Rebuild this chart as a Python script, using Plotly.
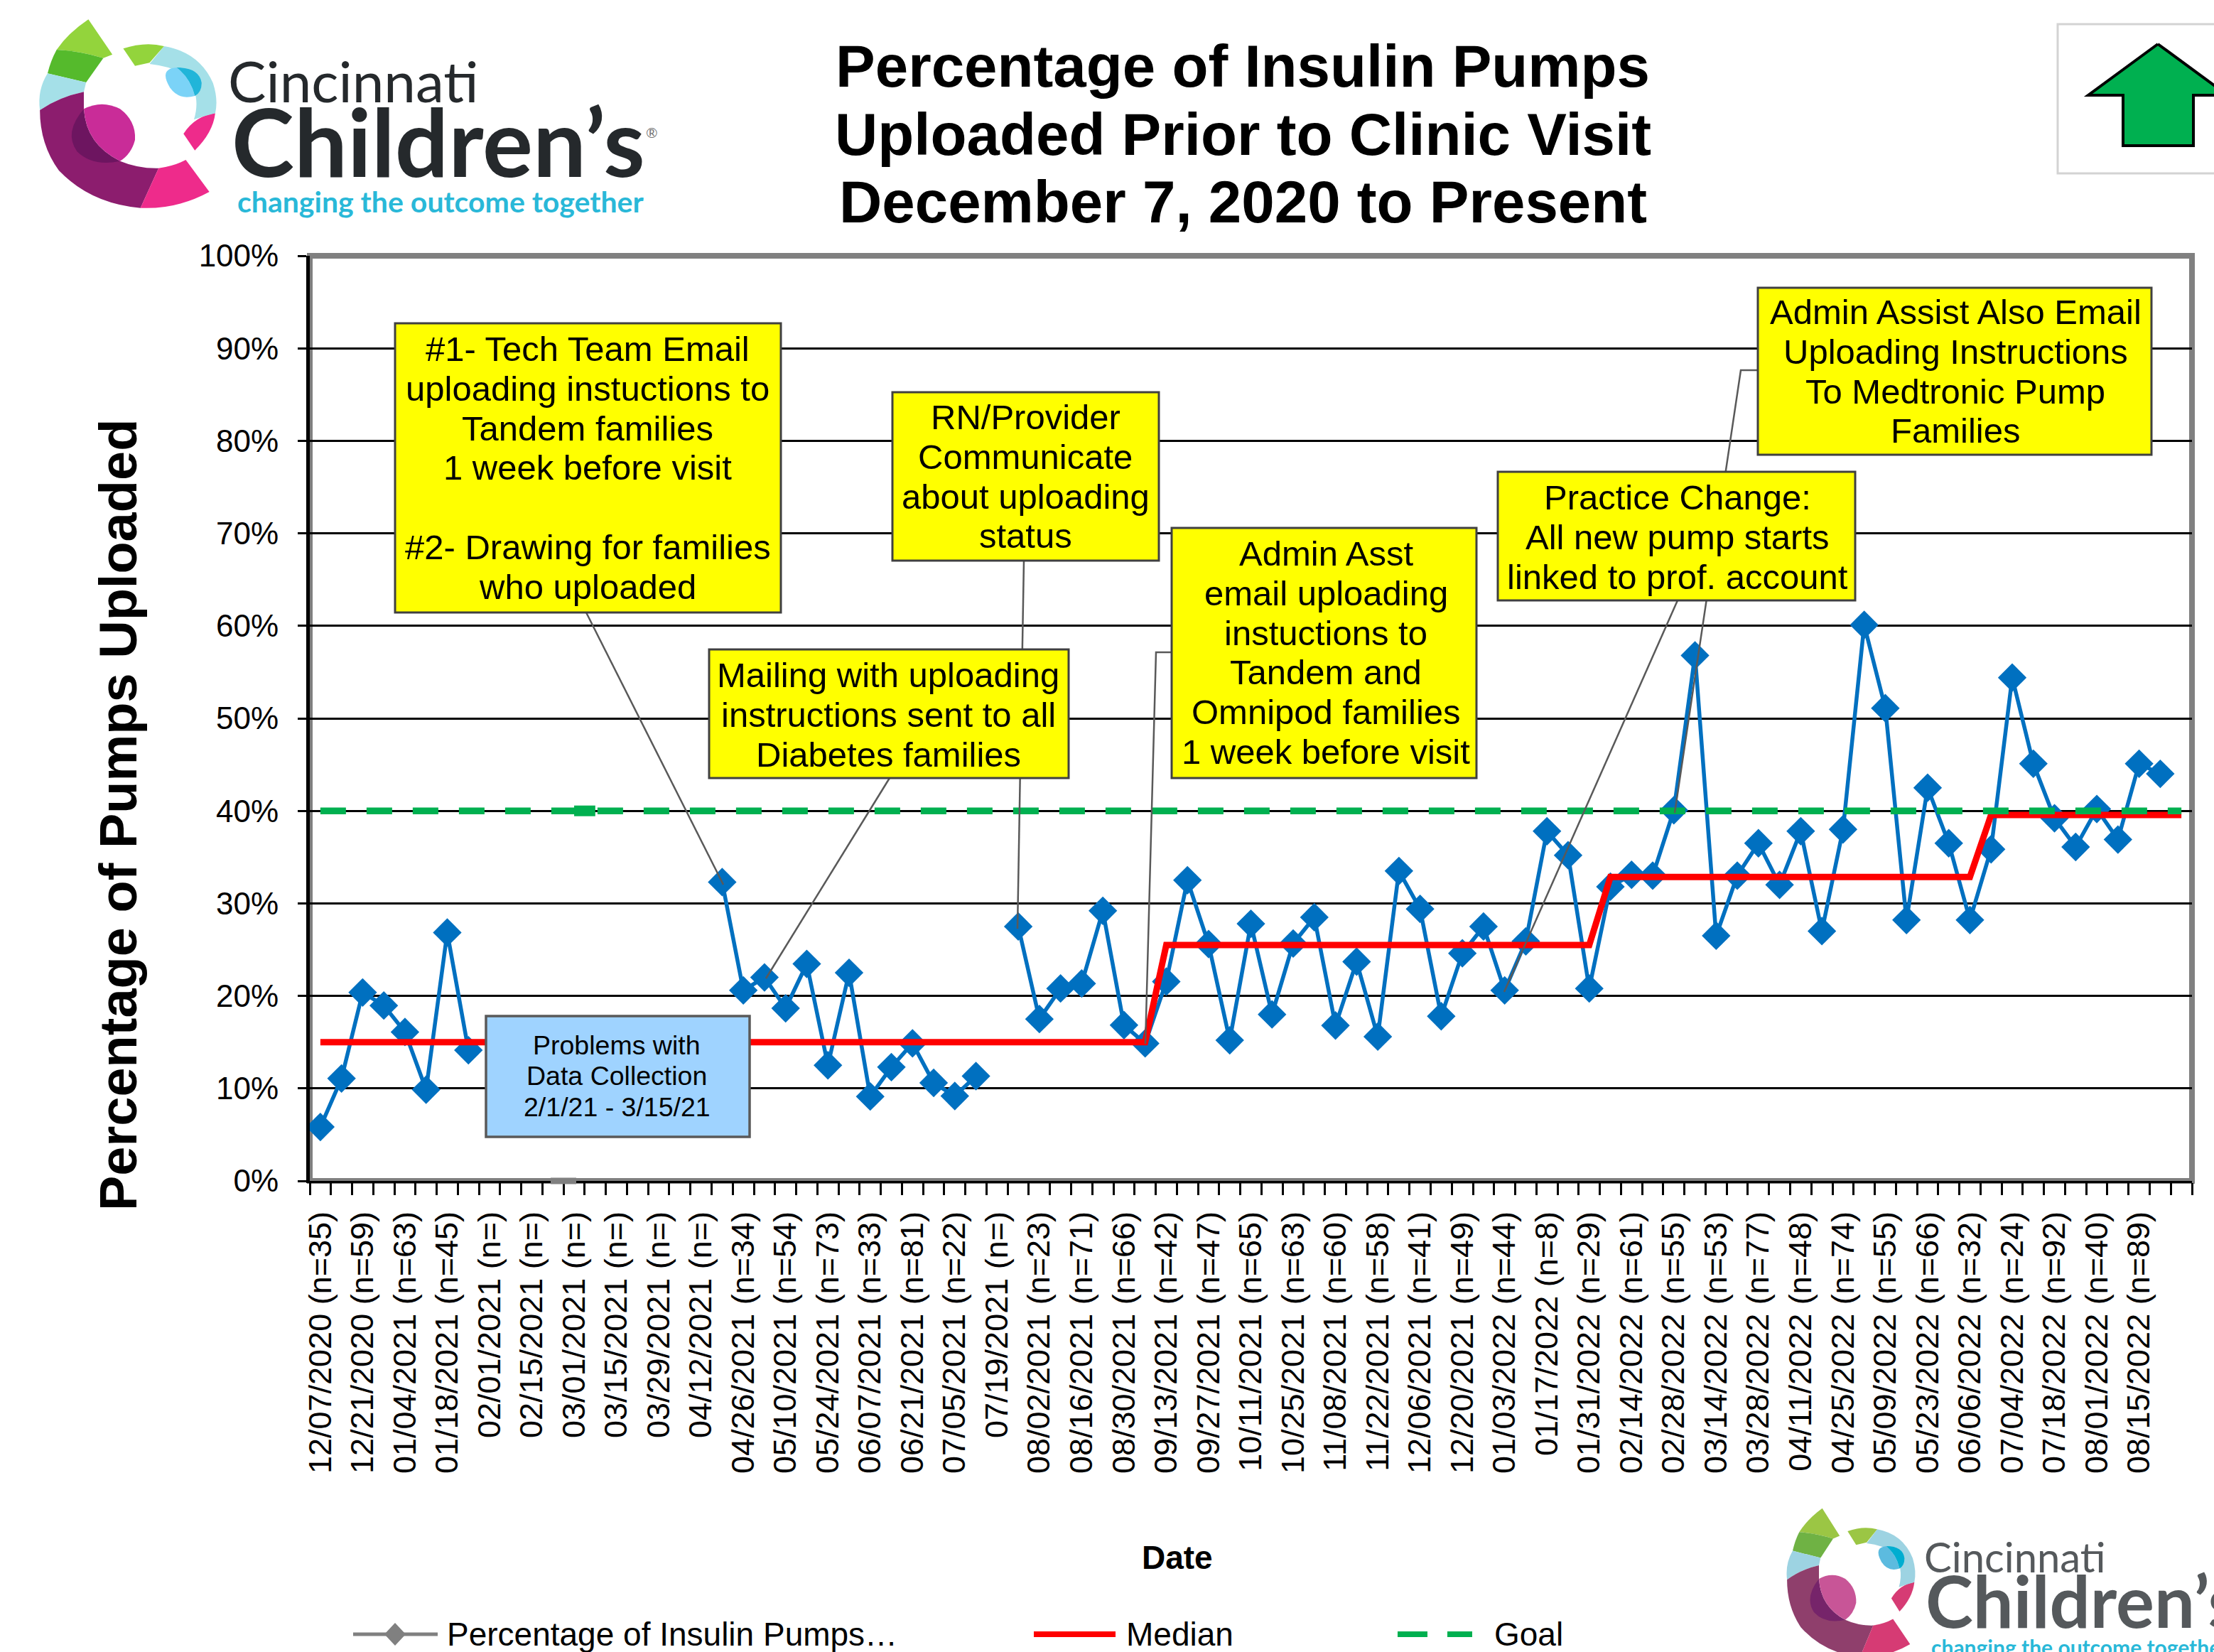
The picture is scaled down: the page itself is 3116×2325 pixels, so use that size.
import re
import plotly.graph_objects as go

# ---------- data ----------
categories = [
 "12/07/2020 (n=35)","12/14/2020","12/21/2020 (n=59)","12/28/2020","01/04/2021 (n=63)","01/11/2021","01/18/2021 (n=45)","01/25/2021",
 "02/01/2021 (n=)","02/08/2021","02/15/2021 (n=)","02/22/2021","03/01/2021 (n=)","03/08/2021","03/15/2021 (n=)","03/22/2021",
 "03/29/2021 (n=)","04/05/2021","04/12/2021 (n=)","04/19/2021","04/26/2021 (n=34)","05/03/2021","05/10/2021 (n=54)","05/17/2021",
 "05/24/2021 (n=73)","05/31/2021","06/07/2021 (n=33)","06/14/2021","06/21/2021 (n=81)","06/28/2021","07/05/2021 (n=22)","07/12/2021",
 "07/19/2021 (n=)","07/26/2021","08/02/2021 (n=23)","08/09/2021","08/16/2021 (n=71)","08/23/2021","08/30/2021 (n=66)","09/06/2021",
 "09/13/2021 (n=42)","09/20/2021","09/27/2021 (n=47)","10/04/2021","10/11/2021 (n=65)","10/18/2021","10/25/2021 (n=63)","11/01/2021",
 "11/08/2021 (n=60)","11/15/2021","11/22/2021 (n=58)","11/29/2021","12/06/2021 (n=41)","12/13/2021","12/20/2021 (n=49)","12/27/2021",
 "01/03/2022 (n=44)","01/10/2022","01/17/2022 (n=8)","01/24/2022","01/31/2022 (n=29)","02/07/2022","02/14/2022 (n=61)","02/21/2022",
 "02/28/2022 (n=55)","03/07/2022","03/14/2022 (n=53)","03/21/2022","03/28/2022 (n=77)","04/04/2022","04/11/2022 (n=48)","04/18/2022",
 "04/25/2022 (n=74)","05/02/2022","05/09/2022 (n=55)","05/16/2022","05/23/2022 (n=66)","05/30/2022","06/06/2022 (n=32)","06/20/2022",
 "07/04/2022 (n=24)","07/11/2022","07/18/2022 (n=92)","07/25/2022","08/01/2022 (n=40)","08/08/2022","08/15/2022 (n=89)","08/22/2022","08/29/2022",
]
pct_uploaded = [
 5.83,11.07,20.37,18.96,16.1,9.86,26.85,14.13,
 None,None,None,None,None,None,None,None,None,None,None,
 32.3,20.6,22.0,18.66,23.46,12.5,22.5,9.13,12.3,14.87,10.6,9.18,11.33,
 None,
 27.5,17.5,20.8,21.34,29.2,16.84,14.87,21.55,32.5,25.6,15.2,27.8,18.0,25.66,28.5,16.8,23.7,15.6,33.5,29.4,17.8,24.6,27.5,20.6,25.9,
 37.8,35.2,20.8,31.8,33.1,33.0,40.07,56.8,26.5,33.0,36.5,32.0,37.8,27.0,38.0,60.1,51.1,28.2,42.5,36.5,28.2,35.85,54.4,45.1,39.2,36.1,40.2,36.9,45.1,44.0,
 None,
]
median = [15.0]*40 + [25.5]*21 + [32.85]*18 + [39.55]*10
goal = [40.0]*89

title_lines = ["Percentage of Insulin Pumps","Uploaded Prior to Clinic Visit","December 7, 2020 to Present"]

# callouts: text lines, box (px), centre-x, first line y
callouts = [
 (["#1- Tech Team Email","uploading instuctions to","Tandem families","1 week before visit","","#2- Drawing for families","who uploaded"],(556,455,1099,862),827,491),
 (["RN/Provider","Communicate","about uploading","status"],(1256,552,1631,789),1443,587),
 (["Mailing with uploading","instructions sent to all","Diabetes families"],(998,914,1504,1095),1250,950),
 (["Admin Asst","email uploading","instuctions to","Tandem and","Omnipod families","1 week before visit"],(1649,743,2078,1095),1866,779),
 (["Practice Change:","All new pump starts","linked to prof. account"],(2108,664,2611,845),2361,700),
 (["Admin Assist Also Email","Uploading Instructions","To Medtronic Pump","Families"],(2474,405,3028,640),2752,439),
]
leaders = [
 [(825,862),(1018,1245)],
 [(1252,1095),(1078,1377)],
 [(1441,789),(1432,1307)],
 [(1649,918),(1627,918),(1612,1469)],
 [(2361,845),(2117,1396)],
 [(2474,521),(2450,521),(2357,1144)],
]

# ---------- pixel helpers ----------
W,H = 3116,2325
L,R,T,B = 436,3085,360,1662
FONT = "Liberation Sans"
def px(x): return (x-L)/(R-L)
def py(y): return 1-(y-T)/(B-T)

shapes=[]; anns=[]
def text(x,y,s,size,color="black",bold=False,anchor="center",angle=0,family=FONT,valign="middle"):
    anns.append(dict(x=px(x),y=py(y),xref="paper",yref="paper",text=("<b>%s</b>"%s if bold else s),showarrow=False,
        xanchor=anchor,yanchor=valign,textangle=angle,font=dict(family=family,size=size,color=color),borderpad=0))
def line(pts,color,width,dash=None,layer="above"):
    p="M"+" L".join("%.5f,%.5f"%(px(a),py(b)) for a,b in pts)
    shapes.append(dict(type="path",path=p,xref="paper",yref="paper",layer=layer,fillcolor="rgba(0,0,0,0)",
        line=dict(color=color,width=width,dash=dash or "solid")))
def box(x0,y0,x1,y1,fill,lc,lw,layer="above"):
    shapes.append(dict(type="rect",xref="paper",yref="paper",x0=px(x0),x1=px(x1),y0=py(y0),y1=py(y1),
        fillcolor=fill,line=dict(color=lc,width=lw),layer=layer))

LOGO_PARTS = [
 ("M195,82 L248,230 L228,245 Q175,215 125,210 Q150,140 195,82 Z","g1"),
 ("M125,210 Q175,215 228,245 L190,348 L105,310 Q112,255 125,210 Z","g2"),
 ("M105,310 L190,348 L185,388 Q130,410 88,465 Q82,380 105,310 Z","lb"),
 ("M88,465 Q130,410 185,388 L185,460 Q150,600 265,680 Q305,712 350,710 L310,878 Q200,860 130,720 Q88,610 88,465 Z","pu"),
 ("M185,460 Q140,560 170,640 Q205,705 265,680 Q190,610 185,460 Z","dp"),
 ("M185,460 Q225,420 265,460 Q300,510 298,590 Q290,650 265,680 Q190,610 185,460 Z","mg"),
 ("M350,710 Q385,700 410,675 L462,810 Q390,885 310,878 Z","hp"),
 ("M475,478 Q430,490 405,565 L430,635 Q470,560 475,478 Z","hp"),
 ("M362,195 Q440,220 470,350 Q482,420 475,478 Q450,490 428,505 Q445,400 410,320 Q380,280 330,270 Z","lb"),
 ("M272,205 Q320,175 362,195 L330,265 L298,278 Z","g1"),
 ("M390,285 Q350,290 375,370 Q395,425 430,405 Q420,330 390,285 Z","b1"),
 ("M390,285 Q440,285 445,350 Q445,390 430,405 Q420,330 390,285 Z","b2"),
]
def logo(tf,pal):
    for d,c in LOGO_PARTS:
        def sub(m):
            X,Y=tf(float(m.group(1)),float(m.group(2)))
            return "%.5f,%.5f"%(px(X),py(Y))
        shapes.append(dict(type="path",path=re.sub(r"(-?\d+\.?\d*),(-?\d+\.?\d*)",sub,d),xref="paper",yref="paper",
            fillcolor=pal[c],line=dict(width=0),layer="above"))

pal1=dict(g1="#93D43C",g2="#55BA2C",lb="#A5E0E8",pu="#8C1D6E",dp="#6D1560",mg="#C92C98",hp="#EE2B8B",b1="#7BD3F7",b2="#21B5D9")
pal2=dict(g1="#9BC644",g2="#6FB244",lb="#9DD3E2",pu="#8F3F6C",dp="#76246A",mg="#C85597",hp="#D63B74",b1="#5CBBDF",b2="#00ADD0")
logo(lambda x,y:(x/1.568,y/3),pal1)
logo(lambda x,y:(2300+(413+0.889*(x-88))/1.92,2080+(128+0.788*(y-82))/3),pal2)
text(320,113,"Cincinnati",80,"#25292C",family="Lato",anchor="left")
text(325,197,"Children’s",133,"#25292C",family="Lato",anchor="left",bold=True)
text(917,186,"®",20,"#777777",family="Lato")
text(333,284,"changing the outcome together",41,"#29B8D8",family="Lato",anchor="left",bold=True)
text(2707,2190,"Cincinnati",58,"#55595C",family="Lato",anchor="left")
text(2709,2252,"Children’s",101,"#55595C",family="Lato",anchor="left",bold=True)
text(2717,2318,"changing the outcome together",30,"#29B8D8",family="Lato",anchor="left",bold=True)

# title
for s,y in zip(title_lines,(93,189,284)):
    text(1749,y,s,83.5,bold=True)

# axis titles
text(166,1147,"Percentage of Pumps Uploaded",74,bold=True,angle=-90)
text(1657,2192,"Date",46,bold=True)

# direction arrow
shapes.append(dict(type="rect",xref="paper",yref="paper",x0=px(2896),x1=px(3200),y0=py(34),y1=py(244),
    line=dict(color="#D3D3D3",width=3),fillcolor="white",layer="above"))
line([(3037,62),(2939,134),(2988,134),(2988,205),(3087,205),(3087,134),(3135,134),(3037,62)],"black",4)
shapes[-1]["fillcolor"]="#00B050"

# plot frame
box(L,T,R,B,"rgba(0,0,0,0)","#808080",8,layer="below")
line([(775,B),(811,B)],"#808080",9)

# leaders then callouts
for pts in leaders:
    line(pts,"#595959",2.5)
for lines_,(x0,y0,x1,y1),cx,y in callouts:
    box(x0,y0,x1,y1,"#FFFF00","#404040",3)
    for i,s in enumerate(lines_):
        if s: text(cx,y+i*55.8,s,49)
box(684,1430,1055,1600,"#9FD3FF","#595959",3.5)
for s,y in zip(["Problems with","Data Collection","2/1/21 - 3/15/21"],(1471,1514,1558)):
    text(868,y,s,37.5)

# hand-built legend (key shows a grey swatch in the original)
LY=2300
line([(497,LY),(616,LY)],"#808080",5)
shapes.append(dict(type="path",xref="paper",yref="paper",fillcolor="#808080",line=dict(width=0),layer="above",
    path="M%.5f,%.5f L%.5f,%.5f L%.5f,%.5f L%.5f,%.5f Z"%(px(556),py(LY-16),px(571),py(LY),px(556),py(LY+16),px(541),py(LY))))
text(628,LY,"Percentage of Insulin Pumps…",46,anchor="left")
line([(1455,LY),(1570,LY)],"#FF0000",8)
text(1584,LY,"Median",46,anchor="left")
line([(1967,LY),(2072,LY)],"#00B050",8,dash="42px,28px")
text(2102,LY,"Goal",46,anchor="left")

# blob on the goal line
shapes.append(dict(type="line",xref="x",yref="y",x0=categories[12],x1=categories[13],y0=40,y1=40,
    line=dict(color="#00B050",width=15),layer="above"))

fig=go.Figure()
fig.add_trace(go.Scatter(x=categories,y=pct_uploaded,mode="lines+markers",name="Percentage of Insulin Pumps Uploaded",
    line=dict(color="#0070C0",width=5.5),marker=dict(symbol="diamond",size=31,color="#0070C0"),connectgaps=False))
fig.add_trace(go.Scatter(x=categories,y=median,mode="lines",name="Median",line=dict(color="#FF0000",width=9)))
fig.add_trace(go.Scatter(x=categories,y=goal,mode="lines",name="Goal",line=dict(color="#00B050",width=9.5,dash="36px,29px")))

fig.update_layout(width=W,height=H,autosize=False,margin=dict(l=L,r=W-R,t=T,b=H-B,pad=0),showlegend=False,
    paper_bgcolor="white",plot_bgcolor="white",font=dict(family=FONT,color="black"),shapes=shapes,annotations=anns)
fig.update_xaxes(type="category",categoryorder="array",categoryarray=categories,range=[-0.5,len(categories)-0.5],
    tickmode="linear",tick0=0,dtick=1,ticklabelstep=2,tickson="boundaries",tickangle=-90,ticks="outside",ticklen=17,tickwidth=3,tickcolor="black",
    tickfont=dict(size=45,family=FONT),showgrid=False,zeroline=False,showline=True,linecolor="black",linewidth=3,ticklabelstandoff=22,
    labelalias={"08/29/2022":" "},automargin=False)
fig.update_yaxes(range=[0,100],tickmode="linear",tick0=0,dtick=10,ticksuffix="%",ticks="outside",ticklen=12,tickwidth=3,tickcolor="black",
    tickfont=dict(size=44,family=FONT),showgrid=True,gridcolor="black",gridwidth=3,zeroline=False,showline=True,linecolor="black",linewidth=5,
    ticklabelstandoff=18,automargin=False)

fig.write_html("out.html",config={"displayModeBar":False},post_script="document.body.style.margin='0';document.body.style.overflow='hidden';")
